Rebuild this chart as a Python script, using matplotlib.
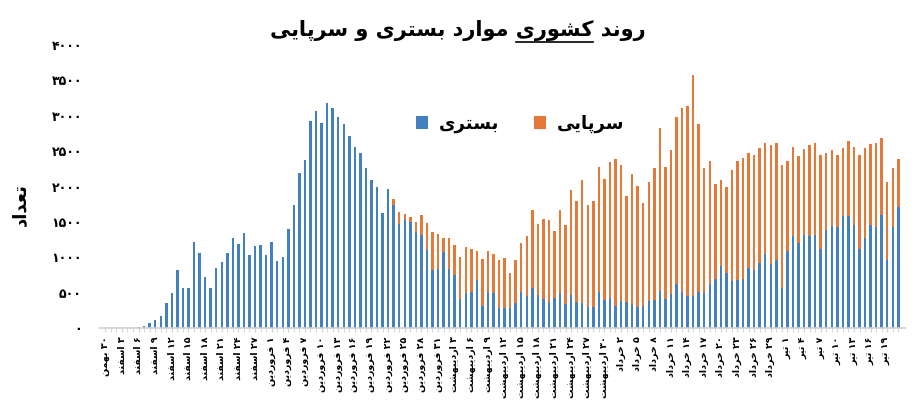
'''
Daily national trend of hospitalised (bastari) and outpatient (sarpaei) cases,
stacked bars with Persian labels.
'''

import numpy as np
import matplotlib
matplotlib.use('Agg')
import matplotlib.pyplot as plt
from matplotlib.lines import Line2D
from matplotlib.ticker import FuncFormatter, FixedLocator

plt.rcParams['font.family'] = ['DejaVu Sans']

################################################################
# Data, one value per day from 30 Bahman
bastari = [0, 0, 0, 0, 0, 0, 20, 30, 75, 110,
           175, 360, 490, 815, 565, 565, 1215, 1055, 720, 570,
           855, 935, 1060, 1275, 1190, 1345, 1030, 1155, 1170, 1025,
           1220, 945, 1010, 1400, 1745, 2195, 2380, 2925, 3070, 2900,
           3185, 3110, 2985, 2880, 2710, 2555, 2480, 2265, 2085, 1990,
           1620, 1960, 1735, 1475, 1520, 1495, 1355, 1315, 1100, 815,
           832, 1070, 830, 755, 415, 500, 510, 680, 310, 510,
           500, 280, 280, 280, 360, 505, 455, 565, 470, 405,
           365, 420, 500, 335, 465, 365, 350, 297, 297, 510,
           390, 430, 310, 380, 365, 335, 300, 310, 380, 400,
           525, 405, 485, 625, 510, 455, 455, 505, 500, 620,
           690, 880, 775, 670, 680, 690, 845, 815, 920, 1045,
           905, 955, 570, 1095, 1305, 1200, 1310, 1300, 1320, 1110,
           1390, 1440, 1425, 1590, 1580, 1460, 1110, 1275, 1450, 1430,
           1600, 965, 1430, 1715]

sarpaei = [0] * 52 + [
           95, 170, 85, 70, 150, 280, 380, 545,
           498, 205, 440, 420, 595, 640, 600, 415, 660, 585,
           550, 680, 710, 495, 595, 695, 850, 1100, 995, 1135,
           1155, 950, 1170, 1125, 1485, 1430, 1740, 1443, 1498, 1770,
           1710, 1910, 2075, 1920, 1495, 1835, 1710, 1460, 1690, 1855,
           2295, 1865, 2030, 2355, 2605, 2680, 3125, 2380, 1765, 1735,
           1340, 1205, 1225, 1565, 1680, 1710, 1623, 1625, 1630, 1565,
           1685, 1655, 1740, 1270, 1260, 1235, 1220, 1290, 1300, 1335,
           1090, 1080, 1020, 950, 1065, 1100, 1330, 1270, 1150, 1190,
           1080, 1100, 825, 670]

# every third day carries a label
date_labels = ['۳۰ بهمن', '۳ اسفند', '۶ اسفند', '۹ اسفند', '۱۲ اسفند',
               '۱۵ اسفند', '۱۸ اسفند', '۲۱ اسفند', '۲۴ اسفند', '۲۷ اسفند',
               '۱ فروردین', '۴ فروردین', '۷ فروردین', '۱۰ فروردین',
               '۱۳ فروردین', '۱۶ فروردین', '۱۹ فروردین', '۲۲ فروردین',
               '۲۵ فروردین', '۲۸ فروردین', '۳۱ فروردین',
               '۳ اردیبهشت', '۶ اردیبهشت', '۹ اردیبهشت', '۱۲ اردیبهشت',
               '۱۵ اردیبهشت', '۱۸ اردیبهشت', '۲۱ اردیبهشت', '۲۴ اردیبهشت',
               '۲۷ اردیبهشت', '۳۰ اردیبهشت',
               '۲ خرداد', '۵ خرداد', '۸ خرداد', '۱۱ خرداد', '۱۴ خرداد',
               '۱۷ خرداد', '۲۰ خرداد', '۲۳ خرداد', '۲۶ خرداد', '۲۹ خرداد',
               '۱ تیر', '۴ تیر', '۷ تیر', '۱۰ تیر', '۱۳ تیر', '۱۶ تیر', '۱۹ تیر']

yticks = [0, 500, 1000, 1500, 2000, 2500, 3000, 3500, 4000]

title_words = ['روند', 'کشوری', 'موارد', 'بستری', 'و', 'سرپایی']
ylabel = 'تعداد'
leg_bastari = 'بستری'
leg_sarpaei = 'سرپایی'

c_blue = '#4280c0'
c_orng = '#e5793a'

################################################################
# Minimal Persian shaping (matplotlib has no bidi / joining)
# isolated, final, initial, medial
forms = {
    'ا': (0xFE8D, 0xFE8E), 'آ': (0xFE81, 0xFE82),
    'ب': (0xFE8F, 0xFE90, 0xFE91, 0xFE92), 'پ': (0xFB56, 0xFB57, 0xFB58, 0xFB59),
    'ت': (0xFE95, 0xFE96, 0xFE97, 0xFE98), 'ث': (0xFE99, 0xFE9A, 0xFE9B, 0xFE9C),
    'ج': (0xFE9D, 0xFE9E, 0xFE9F, 0xFEA0), 'چ': (0xFB7A, 0xFB7B, 0xFB7C, 0xFB7D),
    'ح': (0xFEA1, 0xFEA2, 0xFEA3, 0xFEA4), 'خ': (0xFEA5, 0xFEA6, 0xFEA7, 0xFEA8),
    'د': (0xFEA9, 0xFEAA), 'ذ': (0xFEAB, 0xFEAC), 'ر': (0xFEAD, 0xFEAE),
    'ز': (0xFEAF, 0xFEB0), 'ژ': (0xFB8A, 0xFB8B),
    'س': (0xFEB1, 0xFEB2, 0xFEB3, 0xFEB4), 'ش': (0xFEB5, 0xFEB6, 0xFEB7, 0xFEB8),
    'ص': (0xFEB9, 0xFEBA, 0xFEBB, 0xFEBC), 'ض': (0xFEBD, 0xFEBE, 0xFEBF, 0xFEC0),
    'ط': (0xFEC1, 0xFEC2, 0xFEC3, 0xFEC4), 'ظ': (0xFEC5, 0xFEC6, 0xFEC7, 0xFEC8),
    'ع': (0xFEC9, 0xFECA, 0xFECB, 0xFECC), 'غ': (0xFECD, 0xFECE, 0xFECF, 0xFED0),
    'ف': (0xFED1, 0xFED2, 0xFED3, 0xFED4), 'ق': (0xFED5, 0xFED6, 0xFED7, 0xFED8),
    'ک': (0xFB8E, 0xFB8F, 0xFB90, 0xFB91), 'گ': (0xFB92, 0xFB93, 0xFB94, 0xFB95),
    'ل': (0xFEDD, 0xFEDE, 0xFEDF, 0xFEE0), 'م': (0xFEE1, 0xFEE2, 0xFEE3, 0xFEE4),
    'ن': (0xFEE5, 0xFEE6, 0xFEE7, 0xFEE8), 'و': (0xFEED, 0xFEEE),
    'ه': (0xFEE9, 0xFEEA, 0xFEEB, 0xFEEC), 'ی': (0xFBFC, 0xFBFD, 0xFBFE, 0xFBFF),
}

def shape_word(w):
    out = []
    for ii, ch in enumerate(w):
        if ch not in forms:
            out.append(ch)
            continue
        prv = w[ii-1] if ii > 0 else None
        nxt = w[ii+1] if ii < len(w)-1 else None
        join_prev = prv in forms and len(forms[prv]) == 4
        join_next = len(forms[ch]) == 4 and nxt in forms
        f = forms[ch]
        if join_prev and join_next:
            out.append(chr(f[3]))
        elif join_prev:
            out.append(chr(f[1]))
        elif join_next:
            out.append(chr(f[2]))
        else:
            out.append(chr(f[0]))
    return ''.join(out[::-1])

def fa(s):
    toks = s.split(' ')
    vis = []
    for t in toks:
        if all('۰' <= c <= '۹' for c in t):
            vis.append(t)
        else:
            vis.append(shape_word(t))
    return ' '.join(vis[::-1])

fa_dig = '۰۱۲۳۴۵۶۷۸۹'
def fa_num(v, pos=None):
    return ''.join(fa_dig[int(c)] for c in str(abs(int(round(v)))))

################################################################
# Plot
nn = len(bastari)
xx = np.arange(nn)
bastari = np.array(bastari)
sarpaei = np.array(sarpaei)

fig = plt.figure(figsize=(9.21, 4.09), dpi=100)
ax = fig.add_axes([0.1086, 0.198, 0.874, 0.692])

b1 = ax.bar(xx, bastari, width=0.44, color=c_blue, label=fa(leg_bastari))
b2 = ax.bar(xx, sarpaei, width=0.44, bottom=bastari, color=c_orng, label=fa(leg_sarpaei))

ax.set_xlim(-0.95, 144.2)
ax.set_ylim(0, 4000)
ax.yaxis.set_major_locator(FixedLocator(yticks))
ax.yaxis.set_major_formatter(FuncFormatter(fa_num))
ax.tick_params(axis='y', length=0, labelsize=9, pad=13)
for lab in ax.get_yticklabels():
    lab.set_fontweight('bold')

tick_pos = xx[::3][:len(date_labels)]
ax.set_xticks(tick_pos)
ax.set_xticklabels([fa(l) for l in date_labels], rotation=90, fontsize=6.8,
                   fontweight='bold', va='top', ha='center')
ax.set_xticks(xx, minor=True)
ax.tick_params(axis='x', which='both', length=3, color='#d0d0d0', pad=3)

for sp in ['top', 'right', 'left']:
    ax.spines[sp].set_visible(False)
ax.spines['bottom'].set_color('#d0d0d0')
ax.spines['bottom'].set_linewidth(1.2)

fig.text(0.022, 0.50, fa(ylabel), rotation=90, fontsize=13, fontweight='bold',
         ha='center', va='center')

leg = ax.legend(ncol=2, loc='center', bbox_to_anchor=(0.522, 0.72), frameon=False,
                prop={'size': 13, 'weight': 'bold'}, handlelength=0.7, handleheight=0.7,
                columnspacing=1.9, handletextpad=0.6)

title_vis = fa(' '.join(title_words))
tt = fig.text(0.497, 0.925, title_vis, fontsize=15, fontweight='bold', ha='center',
              va='center')

# underline the second word of the title
fig.canvas.draw()
rend = fig.canvas.get_renderer()
bb = tt.get_window_extent(rend)
prop = tt.get_fontproperties()
vis_words = [fa(w) for w in title_words][::-1]
pre = ' '.join(vis_words[:vis_words.index(fa(title_words[1]))+1])
w_pre, _, _ = rend.get_text_width_height_descent(pre, prop, ismath=False)
w_wrd, _, _ = rend.get_text_width_height_descent(fa(title_words[1]), prop, ismath=False)
x1 = bb.x0 + w_pre
x0 = x1 - w_wrd
yl = bb.y0 - 1
W, H = fig.bbox.width, fig.bbox.height
fig.add_artist(Line2D([x0/W, x1/W], [yl/H, yl/H], color='black', lw=1.2,
                      transform=fig.transFigure))

plt.savefig('out.png', dpi=100)
